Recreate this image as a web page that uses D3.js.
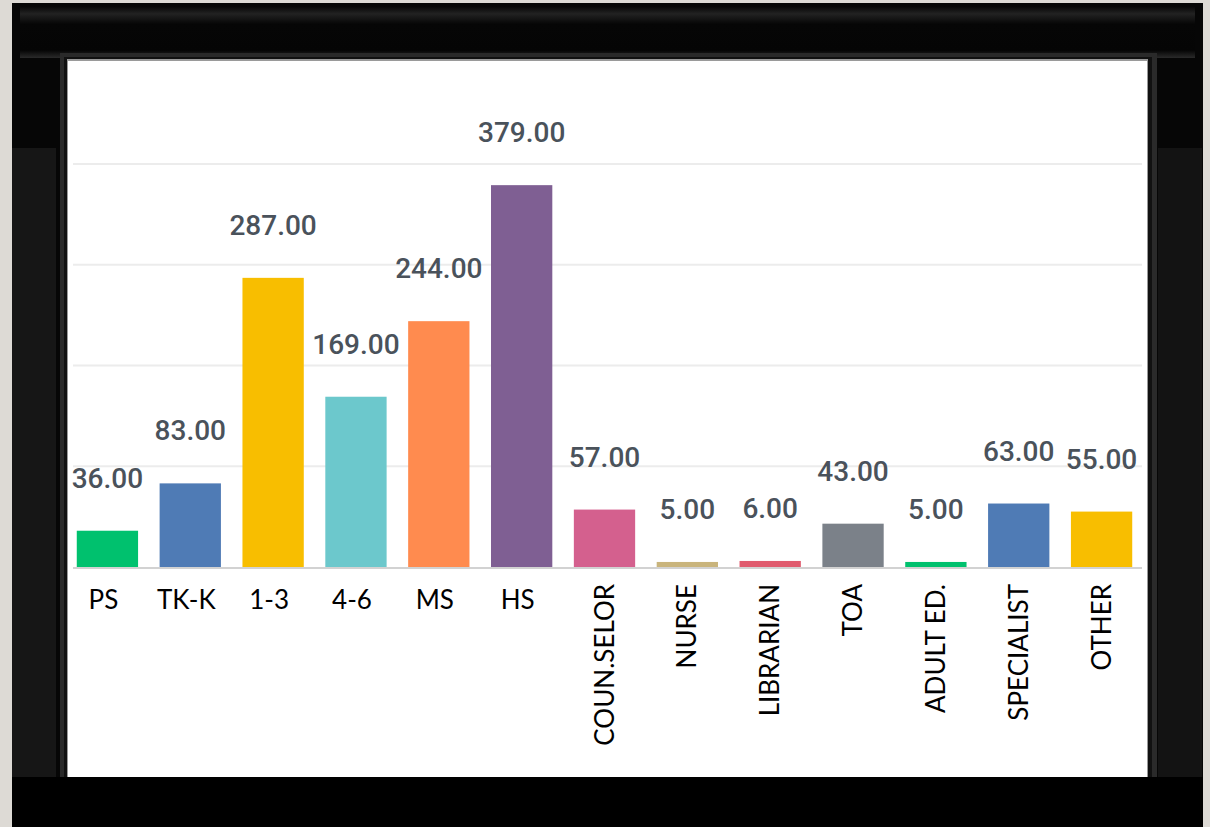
<!DOCTYPE html>
<html>
<head>
<meta charset="utf-8">
<script src="https://cdn.jsdelivr.net/npm/d3@7/dist/d3.min.js"></script>
<style>
  html, body { margin: 0; padding: 0; background: #dddad5; }
  svg { display: block; }
</style>
</head>
<body>
<svg id="chart" width="1210" height="827"></svg>
<script>
// ---- data ----
const categories = ["PS", "TK-K", "1-3", "4-6", "MS", "HS", "COUN.SELOR", "NURSE", "LIBRARIAN", "TOA", "ADULT ED.", "SPECIALIST", "OTHER"];
const values = [36, 83, 287, 169, 244, 379, 57, 5, 6, 43, 5, 63, 55];
const barColors = ["#00c16e", "#4f7bb5", "#f8be00", "#6cc8cc", "#ff8b4f", "#7f5f93", "#d4608e", "#c9b47c", "#e05a6d", "#7b8189", "#00c16e", "#4f7bb5", "#f8be00"];
const rotatedLabels = ["COUN.SELOR", "NURSE", "LIBRARIAN", "TOA", "ADULT ED.", "SPECIALIST", "OTHER"];
const gridTicks = [100, 200, 300, 400];

const svg = d3.select("#chart");
const W = 1210, H = 827;

// ---- frame ----
const defs = svg.append("defs");
const gTop = defs.append("linearGradient").attr("id", "gTop").attr("x1", 0).attr("y1", 0).attr("x2", 0).attr("y2", 1);
gTop.append("stop").attr("offset", "0").attr("stop-color", "#050505");
gTop.append("stop").attr("offset", "0.15").attr("stop-color", "#222");
gTop.append("stop").attr("offset", "0.35").attr("stop-color", "#060606");
gTop.append("stop").attr("offset", "0.85").attr("stop-color", "#050505");
gTop.append("stop").attr("offset", "1").attr("stop-color", "#2a2a2a");

svg.append("rect").attr("x", 0).attr("y", 0).attr("width", W).attr("height", H).attr("fill", "#dddad5");
svg.append("rect").attr("x", 12).attr("y", 3).attr("width", 1191).attr("height", 824).attr("fill", "#060606");
// side shading lower parts
svg.append("rect").attr("x", 12).attr("y", 148).attr("width", 44).attr("height", 630).attr("fill", "#161616");
svg.append("rect").attr("x", 1158).attr("y", 148).attr("width", 44).attr("height", 630).attr("fill", "#131313");
// top bevel
svg.append("rect").attr("x", 20).attr("y", 6).attr("width", 1175).attr("height", 52).attr("fill", "url(#gTop)");
// inner bevel edge
svg.append("rect").attr("x", 60).attr("y", 53).attr("width", 1097).attr("height", 730).attr("fill", "#2a2a2a");
svg.append("rect").attr("x", 64).attr("y", 57).attr("width", 1088).attr("height", 722).attr("fill", "#111");
svg.append("rect").attr("x", 67).attr("y", 59).attr("width", 1081).attr("height", 720).attr("fill", "#9a9a9a");
// white panel
svg.append("rect").attr("x", 68).attr("y", 61).attr("width", 1079).attr("height", 716).attr("fill", "#ffffff");
// bottom black bar
svg.append("rect").attr("x", 12).attr("y", 777).attr("width", 1191).attr("height", 50).attr("fill", "#000");

// ---- scales ----
const x = d3.scaleBand().domain(categories).range([66, 1143]).paddingInner(0.26).paddingOuter(0.13);
const y = d3.scaleLinear().domain([0, 400]).range([567, 164]);

// gridlines
svg.append("g").selectAll("line").data(gridTicks).join("line")
  .attr("x1", 73).attr("x2", 1142)
  .attr("y1", d => y(d)).attr("y2", d => y(d))
  .attr("stroke", "#ececec").attr("stroke-width", 2);

// bars
svg.append("g").selectAll("rect").data(values).join("rect")
  .attr("x", (d, i) => x(categories[i]))
  .attr("y", d => y(d))
  .attr("width", x.bandwidth())
  .attr("height", d => y(0) - y(d))
  .attr("fill", (d, i) => barColors[i]);

// baseline
svg.append("line").attr("x1", 73).attr("x2", 1142).attr("y1", y(0) + 1).attr("y2", y(0) + 1)
  .attr("stroke", "#d2d2d2").attr("stroke-width", 2);

// value labels
svg.append("g").selectAll("text").data(values).join("text")
  .attr("x", (d, i) => x(categories[i]) + x.bandwidth() / 2)
  .attr("y", d => y(d) - 43)
  .attr("text-anchor", "middle")
  .attr("font-family", "Roboto, sans-serif")
  .attr("font-weight", 500)
  .attr("font-size", 28)
  .attr("fill", "#4a525b")
  .text(d => d3.format(".2f")(d));

// category labels
const labG = svg.append("g").attr("font-family", "Lato, 'Open Sans', sans-serif").attr("font-size", 26).attr("fill", "#000");
categories.forEach((c, i) => {
  const cx = x(c) + x.bandwidth() / 2;
  if (rotatedLabels.includes(c)) {
    labG.append("text")
      .attr("transform", `translate(${cx + 9},584) rotate(-90)`)
      .attr("text-anchor", "end")
      .text(c);
  } else {
    labG.append("text")
      .attr("x", cx - 4).attr("y", 609)
      .attr("text-anchor", "middle")
      .text(c);
  }
});
</script>
</body>
</html>
